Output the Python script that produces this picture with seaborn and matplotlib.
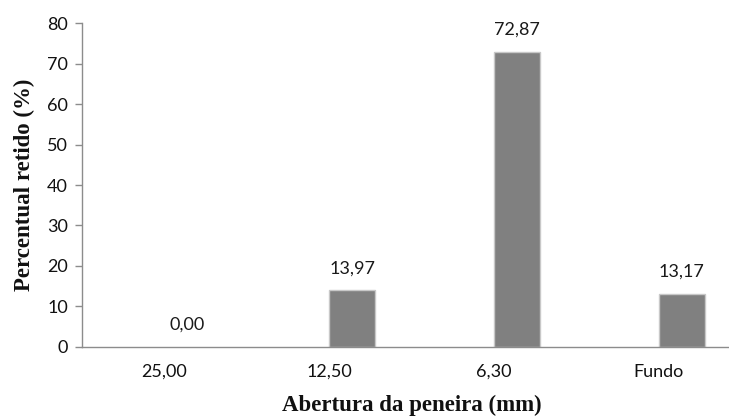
import matplotlib
matplotlib.use("Agg")
import matplotlib.pyplot as plt
import seaborn as sns
import pandas as pd

# Sieve openings and percentage retained on each
aberturas = ["25,00", "12,50", "6,30", "Fundo"]
retido = [0.00, 13.97, 72.87, 13.17]
rotulos = ["0,00", "13,97", "72,87", "13,17"]

df = pd.DataFrame({"abertura": aberturas, "retido": retido})

sns.set_theme(style="white")
plt.rcParams["font.family"] = ["Lato", "DejaVu Sans"]

fig = plt.figure(figsize=(7.29, 4.2), dpi=100)
ax = fig.add_axes([0.1125, 0.174, 0.904, 0.771])

bar_w = 0.28
sns.barplot(data=df, x="abertura", y="retido", ax=ax, color="#808080",
            width=bar_w, saturation=1, edgecolor="#c8c8c8", linewidth=1.0)

# bars sit just right of each category centre (second series slot)
for p in ax.patches:
    p.set_x(p.get_x() + bar_w / 2)
    if p.get_height() == 0:
        p.set_linewidth(0)

for i, (v, lab) in enumerate(zip(retido, rotulos)):
    ax.annotate(lab, (i + bar_w / 2, v), xytext=(0, 10), textcoords="offset points",
                ha="center", va="bottom", fontsize=13, color="#1a1a1a")

ax.set_xlim(-0.5, 3.5)
ax.set_ylim(0, 80)
ax.set_yticks(range(0, 81, 10))

ax.set_xticks(range(4))
ax.set_xticklabels(aberturas)
ax.set_xticks([-0.5, 0.5, 1.5, 2.5, 3.5], minor=True)
ax.tick_params(axis="x", which="major", length=0, pad=12, labelsize=13, labelcolor="#111111")
ax.tick_params(axis="x", which="minor", length=5, width=1, color="#8c8c8c", direction="out")
ax.tick_params(axis="y", which="major", length=5, width=1, color="#8c8c8c", direction="out",
               left=True, pad=5, labelsize=13, labelcolor="#111111")

for s in ["top", "right"]:
    ax.spines[s].set_visible(False)
for s in ["left", "bottom"]:
    ax.spines[s].set_color("#8c8c8c")
    ax.spines[s].set_linewidth(1.0)

ax.set_ylabel("Percentual retido (%)", family="Liberation Serif", fontweight="bold",
              fontsize=16.5, color="#111111", labelpad=9)
ax.set_xlabel("Abertura da peneira (mm)", family="Liberation Serif", fontweight="bold",
              fontsize=16.5, color="#111111", labelpad=11)

fig.savefig("out.png", dpi=100)
